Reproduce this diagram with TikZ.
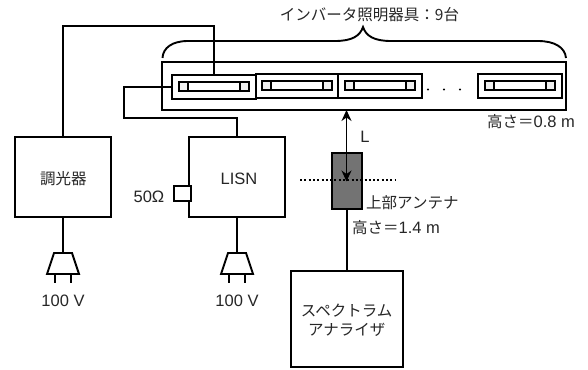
\documentclass[tikz,border=0pt]{standalone}
\usepackage{fontspec}
\setmainfont{Liberation Sans}
\newfontfamily\cjk{Noto Sans CJK JP}
\usetikzlibrary{arrows.meta}
\newcommand{\lampunit}[4]{%
  \node[frame,minimum width=#4pt,minimum height=24pt] (f#1) at (#2,#3) {};
  \node[tube,minimum width=68pt,minimum height=9pt] (t#1) at (#2,#3-0.5) {};
  \node[capbox] at (t#1.west) [xshift=4.5pt] {};
  \node[capbox] at (t#1.east) [xshift=-4.5pt] {};
}
\newcommand{\plug}[2]{%
  \coordinate (#1top) at (#2,253);
  \draw[wire,line join=miter] (#2-9,253) -- (#2+9,253) -- (#2+16,274) -- (#2-16,274) -- cycle;
  \draw[wire] (#2-8,274) -- (#2-8,283);
  \draw[wire] (#2+8,274) -- (#2+8,283);
}
\tikzset{
  wire/.style={draw=black,line width=1.9pt},
  frame/.style={draw=black,line width=1.9pt,inner sep=0pt,fill=white},
  tube/.style={draw=black,line width=1.9pt,inner sep=0pt,fill=white},
  capbox/.style={draw=black,line width=1.8pt,inner sep=0pt,minimum width=9pt,minimum height=9pt,fill=black!6},
  blockbox/.style={draw=black,line width=1.9pt,inner sep=0pt,fill=white},
  lbl/.style={inner sep=0pt,font=\fontsize{15.5}{19}\selectfont,text=black!85},
  latin/.style={inner sep=0pt,font=\fontsize{16.5}{19}\selectfont,text=black!85},
}
\begin{document}
\begin{tikzpicture}[x=1pt,y=-1pt]
\useasboundingbox (0,0) rectangle (588,369);
\node[blockbox,minimum width=404pt,minimum height=48pt] (rack) at (364,86) {};
\lampunit{a}{214}{87}{84}
\lampunit{b}{297}{86}{82}
\lampunit{c}{380}{86}{84}
\lampunit{d}{520}{86}{84}
\node[blockbox,minimum width=96pt,minimum height=80pt] (dim) at (63,177) {};
\node[lbl] at (63.3,178.5) {\cjk 調光器};
\node[blockbox,minimum width=96pt,minimum height=80pt] (lisn) at (237,177) {};
\node[latin] at (239,179) {LISN};
\node[blockbox,minimum width=17pt,minimum height=15pt] (load) at (182.5,193.5) {};
\node[latin,anchor=east] (ohm) at (164.5,197) {50Ω};
\foreach \x in {428,444,460} \fill (\x,89.5) circle (1.2pt);
\draw[wire] (162.5,58) .. controls (163,48) and (172,41) .. (188,41) -- (335,41)
  .. controls (352,41) and (360,36) .. (363,27) .. controls (366,36) and (374,41) .. (391,41)
  -- (538,41) .. controls (554,41) and (565,47) .. (566,58);
\node[lbl] (title) at (369.5,14.5) {\cjk インバータ照明器具：9台};
\draw[wire] (dim.north) -- (63,26) -- (214,26) -- (fa.north);
\draw[wire] (lisn.north) -- (237,118) -- (124,118) -- (124,87) -- (fa.west);
\plug{pa}{63}
\plug{pb}{237}
\draw[wire] (dim.south) -- (patop);
\draw[wire] (lisn.south) -- (pbtop);
\node[latin] at (63,300.5) {100 V};
\node[latin] at (237,300.5) {100 V};
\node[draw=black,line width=1.9pt,fill=black!55,inner sep=0pt,minimum width=30pt,minimum height=56pt] (ant) at (347,181) {};
\draw[black,line width=2pt,dash pattern=on 2pt off 2.3pt] (300,180) -- (396,180);
\coordinate (lt) at (346.5,110);
\coordinate (lb) at (346.5,181.5);
\draw[line width=1.2pt,{Stealth[length=11pt,width=10pt,inset=3.5pt]}-{Stealth[length=11pt,width=10pt,inset=3.5pt]}] (lt) -- (lb);
\node[latin] at (365,136.5) {L};
\node[blockbox,minimum width=112pt,minimum height=96pt] (sa) at (347,319) {};
\node[lbl,align=center] at (346.7,320.5) {\cjk スペクトラム\\\cjk アナライザ};
\draw[wire] (ant.south) -- (sa.north);
\node[lbl,anchor=west] at (366,203) {\cjk 上部アンテナ};
\node[latin,anchor=west] at (352,227.5) {{\cjk\fontsize{15.5}{19}\selectfont 高さ＝}1.4 m};
\node[latin,anchor=west] at (487,122) {{\cjk\fontsize{15.5}{19}\selectfont 高さ＝}0.8 m};
\end{tikzpicture}
\end{document}
